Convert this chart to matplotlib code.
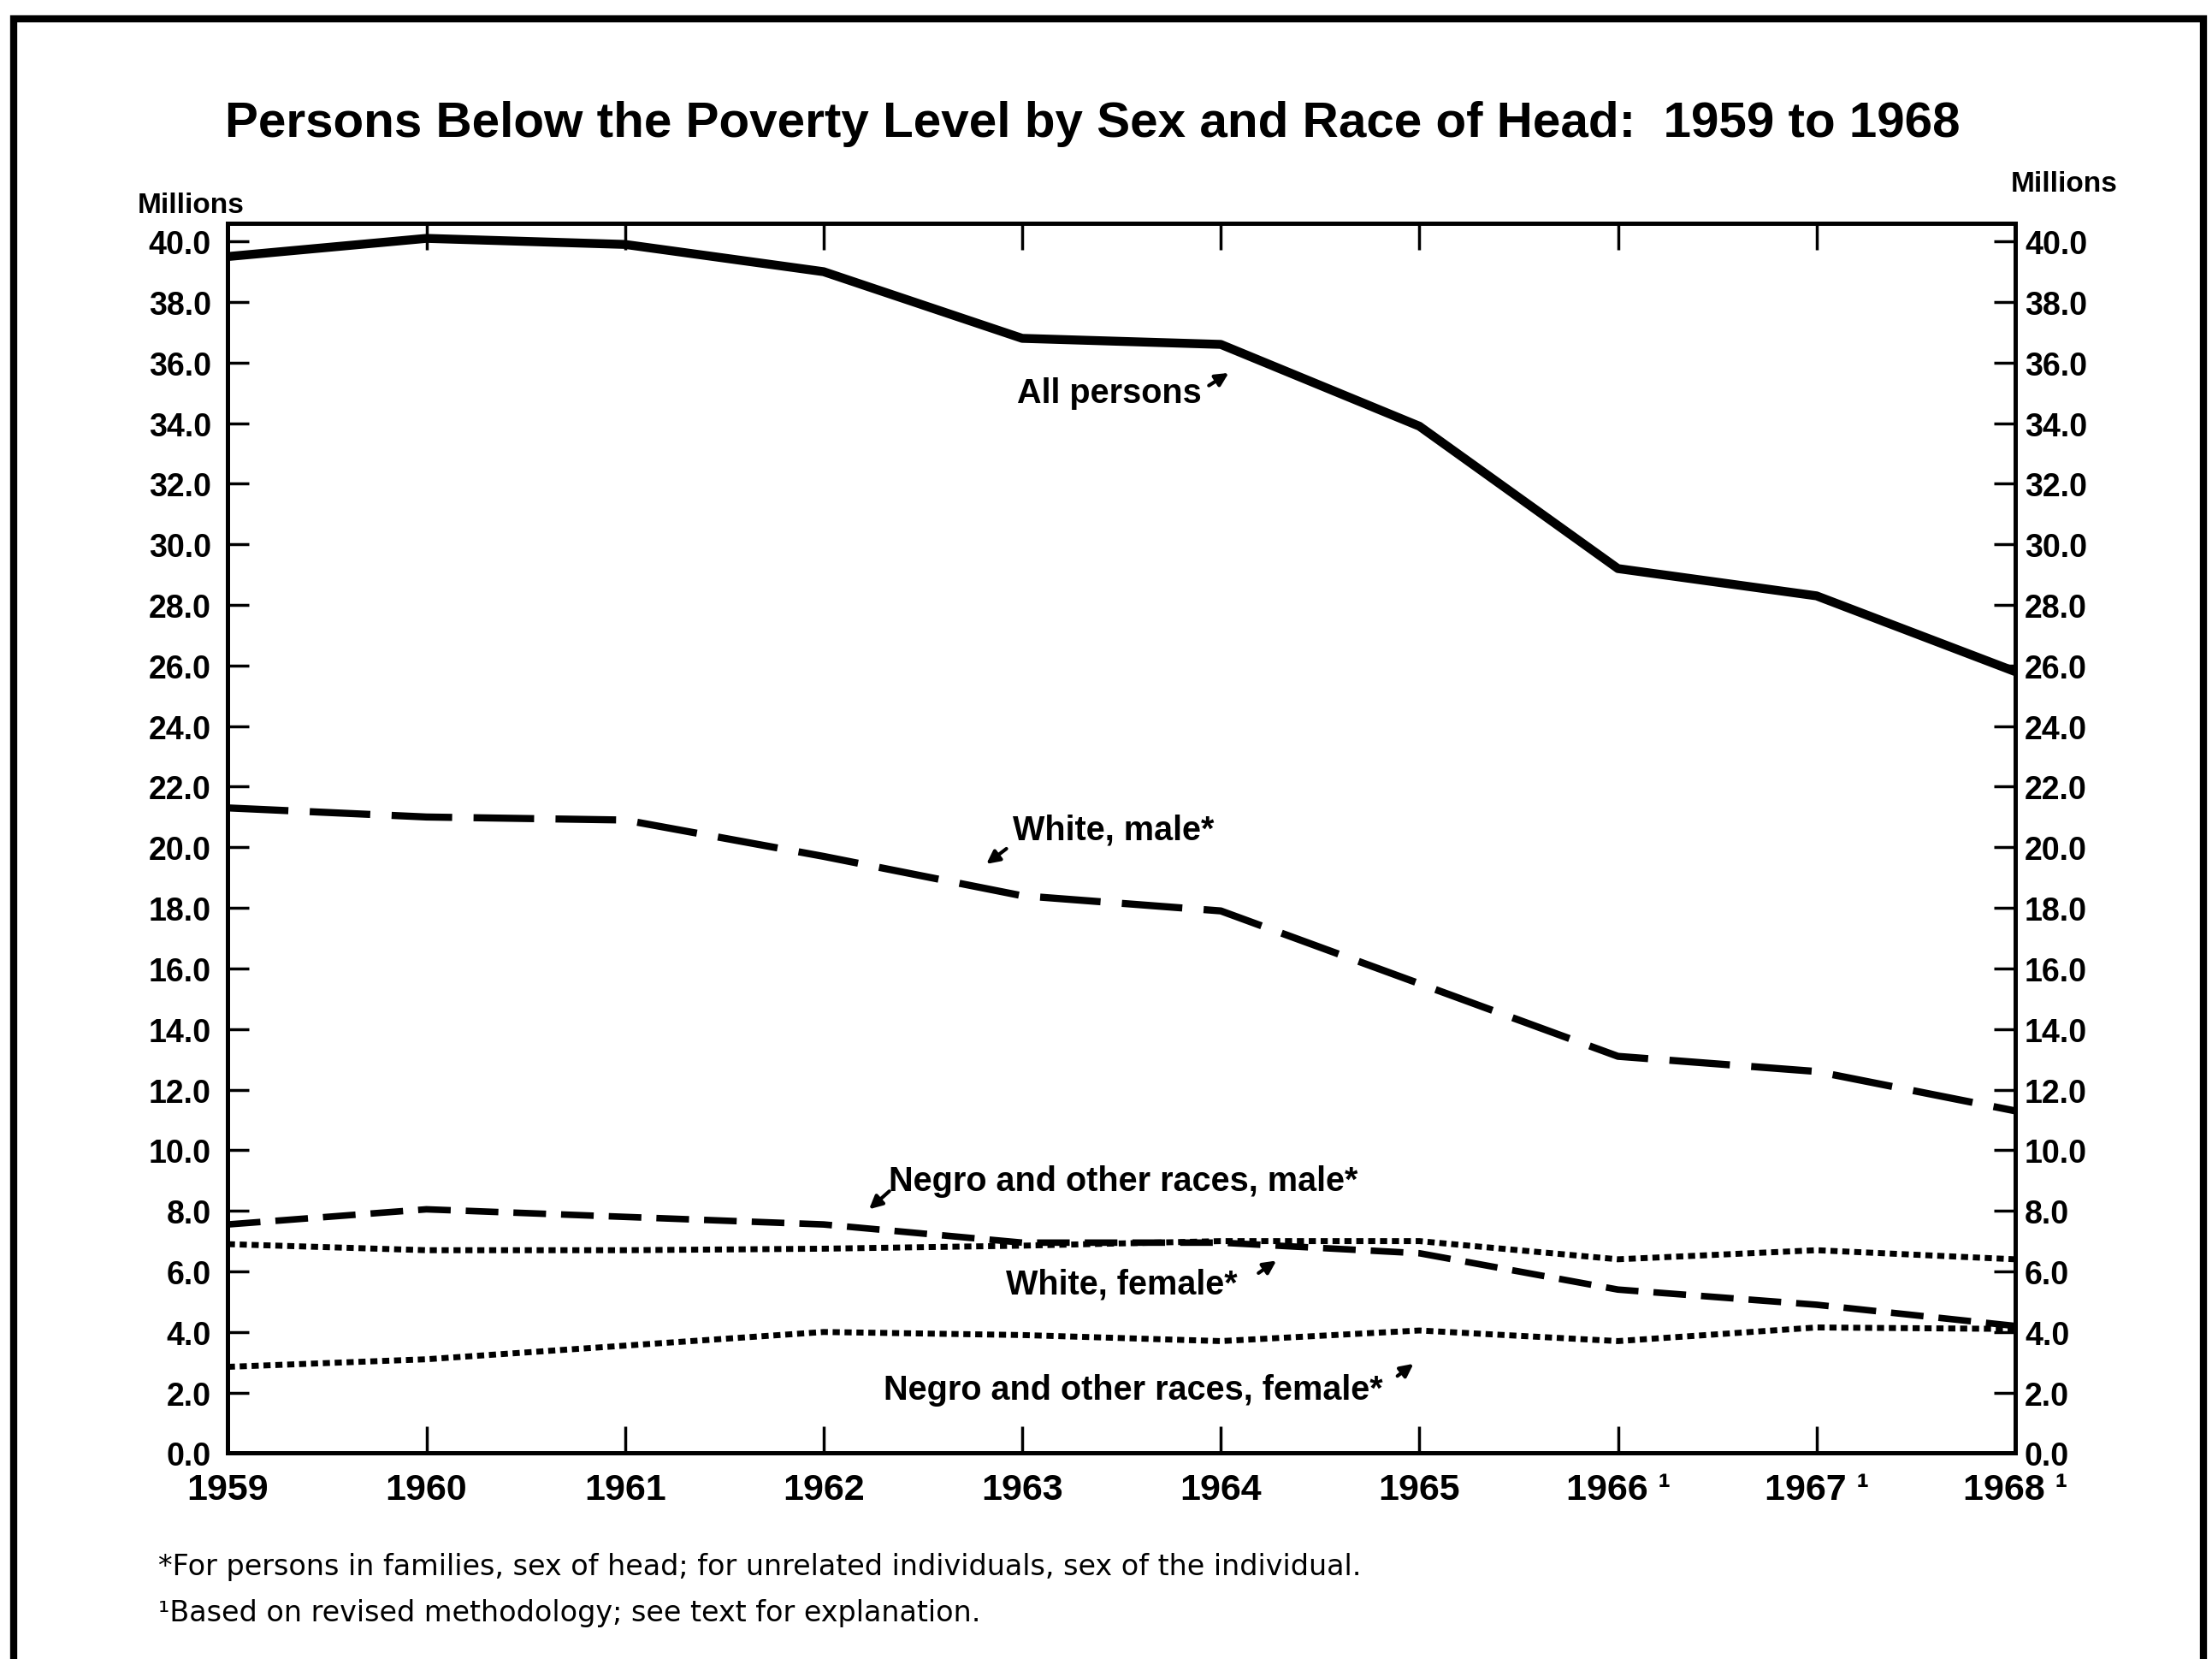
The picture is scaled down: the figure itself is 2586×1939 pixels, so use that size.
import matplotlib
matplotlib.use("Agg")
import matplotlib.pyplot as plt
from matplotlib import font_manager
from matplotlib.patches import Rectangle

names = {f.name for f in font_manager.fontManager.ttflist}
NARROW = "Liberation Sans Narrow" if "Liberation Sans Narrow" in names else "Liberation Sans"

years = [1959, 1960, 1961, 1962, 1963, 1964, 1965, 1966, 1967, 1968]
year_labels = ["1959", "1960", "1961", "1962", "1963", "1964", "1965",
               "1966 \u00b9", "1967 \u00b9", "1968 \u00b9"]
all_persons = [39.5, 40.1, 39.9, 39.0, 36.8, 36.6, 33.9, 29.2, 28.3, 25.8]
white_male = [21.3, 21.0, 20.9, 19.7, 18.4, 17.9, 15.5, 13.1, 12.6, 11.3]
negro_male = [7.55, 8.05, 7.8, 7.55, 6.95, 6.95, 6.6, 5.4, 4.9, 4.2]
white_female = [6.9, 6.7, 6.7, 6.75, 6.85, 7.0, 7.0, 6.4, 6.7, 6.4]
negro_female = [2.85, 3.1, 3.55, 4.0, 3.9, 3.7, 4.05, 3.7, 4.15, 4.1]
y_ticks = [0, 2, 4, 6, 8, 10, 12, 14, 16, 18, 20, 22, 24, 26, 28, 30, 32, 34, 36, 38, 40]

title = "Persons Below the Poverty Level by Sex and Race of Head:  1959 to 1968"
foot1 = "*For persons in families, sex of head; for unrelated individuals, sex of the individual."
foot2 = "\u00b9Based on revised methodology; see text for explanation."

fig = plt.figure(figsize=(25.86, 19.40), dpi=100)
ax = fig.add_axes([0.103, 0.124, 0.808, 0.741])

ax.plot(years, all_persons, color="black", lw=7.5, solid_joinstyle="round")
ax.plot(years, white_male, color="black", lw=6, linestyle=(0, (8.5, 3.0)), dash_capstyle="butt")
ax.plot(years, negro_male, color="black", lw=5.5, linestyle=(0, (5.0, 2.3)), dash_capstyle="butt")
ax.plot(years, white_female, color="black", lw=5.0, linestyle=(0, (1.2, 0.8)), dash_capstyle="butt")
ax.plot(years, negro_female, color="black", lw=5.0, linestyle=(0, (1.2, 0.8)), dash_capstyle="butt")

ax.set_xlim(1959, 1968)
ax.set_ylim(0, 40.6)
ax.set_yticks(y_ticks)
ax.set_yticklabels([f"{v:.1f}" for v in y_ticks])
ax.set_xticks(years)
ax.set_xticklabels(year_labels)

for s in ax.spines.values():
    s.set_linewidth(3.5)

ax.tick_params(axis="y", direction="in", length=18, width=2.5, pad=14, labelsize=27)
ax.tick_params(axis="x", direction="in", length=22, width=2.5, pad=16, labelsize=31, top=True)
for t in ax.get_yticklabels() + ax.get_xticklabels():
    t.set_fontfamily(NARROW)
    t.set_fontweight("bold")

ax2 = ax.twinx()
ax2.set_ylim(ax.get_ylim())
ax2.set_yticks(y_ticks)
ax2.set_yticklabels([f"{v:.1f}" for v in y_ticks])
ax2.tick_params(axis="y", direction="in", length=18, width=2.5, pad=8, labelsize=27)
for t in ax2.get_yticklabels():
    t.set_fontfamily(NARROW)
    t.set_fontweight("bold")
for s in ax2.spines.values():
    s.set_linewidth(3.5)

fig.text(0.494, 0.925, title, ha="center", va="center", family=NARROW, weight="bold", size=42)
fig.text(0.062, 0.876, "Millions", ha="left", va="center", family=NARROW, weight="bold", size=24)
fig.text(0.909, 0.889, "Millions", ha="left", va="center", family=NARROW, weight="bold", size=24)

arrow = dict(arrowstyle="-|>,head_length=0.9,head_width=0.45", color="black", lw=3)
ann_font = dict(family=NARROW, weight="bold", size=28.5, ha="center", va="center")
ax.annotate("", xy=(1964.05, 35.7), xytext=(1963.93, 35.2), arrowprops=arrow)
ax.text(1963.44, 35.0, "All persons", **ann_font)
ax.annotate("", xy=(1962.81, 19.4), xytext=(1962.93, 20.0), arrowprops=arrow)
ax.text(1963.46, 20.6, "White, male*", **ann_font)
ax.annotate("", xy=(1962.22, 8.0), xytext=(1962.34, 8.7), arrowprops=arrow)
ax.text(1963.51, 9.0, "Negro and other races, male*", **ann_font)
ax.annotate("", xy=(1964.29, 6.4), xytext=(1964.18, 5.9), arrowprops=arrow)
ax.text(1963.5, 5.6, "White, female*", **ann_font)
ax.annotate("", xy=(1964.98, 3.0), xytext=(1964.88, 2.5), arrowprops=arrow)
ax.text(1963.56, 2.1, "Negro and other races, female*", **ann_font)

fig.text(0.0715, 0.056, foot1, ha="left", va="center", family="DejaVu Sans", size=24)
fig.text(0.0715, 0.028, foot2, ha="left", va="center", family="DejaVu Sans", size=24)

fig.patches.append(Rectangle((0.006, -0.01), 0.99, 0.998, transform=fig.transFigure,
                             fill=False, edgecolor="black", lw=6))

fig.savefig("out.png", dpi=100, facecolor="white")
